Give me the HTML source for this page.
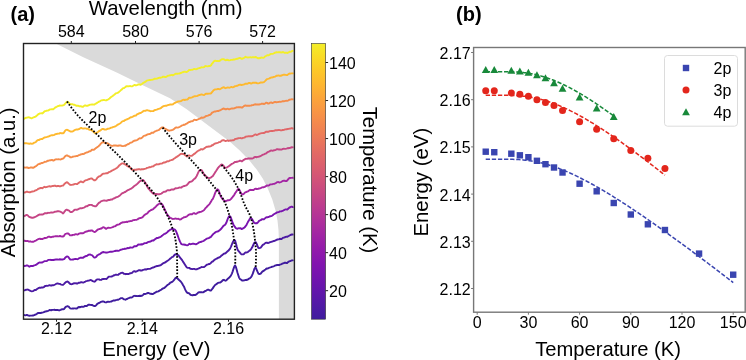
<!DOCTYPE html>
<html><head><meta charset="utf-8"><style>
html,body{margin:0;padding:0;background:#fff;width:746px;height:360px;overflow:hidden;}
svg{display:block;font-family:"Liberation Sans",sans-serif;will-change:transform;}
</style></head><body>
<svg width="746" height="360" viewBox="0 0 746 360"><path d="M55.80,43.50 L294.40,43.50 L294.40,319.20 L278.9,319.20 L278.90,240.00 L278.50,230.00 L277.50,220.40 L275.40,210.00 L272.30,199.60 L268.10,189.20 L262.90,178.75 L256.70,169.60 L249.40,160.50 L240.00,150.80 L230.00,141.70 L220.00,134.20 L210.00,126.70 L200.00,119.20 L186.70,109.20 L170.00,98.30 L141.70,84.70 L116.70,72.50 L83.30,57.20 L55.80,43.50 Z" fill="#dadada"/>
<path d="M23.9,118.72 L24.7,118.54 L25.5,118.00 L26.3,117.70 L27.1,117.65 L27.9,117.38 L28.7,117.30 L29.5,117.49 L30.3,117.78 L31.1,118.22 L31.9,118.25 L32.7,117.78 L33.5,117.35 L34.3,117.04 L35.1,116.82 L35.9,116.44 L36.7,115.68 L37.5,115.07 L38.3,114.19 L39.1,113.80 L39.9,113.40 L40.7,113.35 L41.5,113.28 L42.3,113.43 L43.1,112.86 L43.9,112.02 L44.7,111.19 L45.5,111.12 L46.3,110.76 L47.1,110.62 L47.9,110.49 L48.7,110.29 L49.5,109.72 L50.3,109.33 L51.1,109.35 L51.9,109.14 L52.7,109.25 L53.5,109.18 L54.3,108.38 L55.1,107.62 L55.9,107.09 L56.7,106.79 L57.5,106.30 L58.3,105.98 L59.1,105.83 L59.9,105.38 L60.7,105.58 L61.5,105.58 L62.3,105.44 L63.1,105.39 L63.9,105.01 L64.7,104.23 L65.5,103.31 L66.3,102.40 L67.1,101.70 L67.9,101.91 L68.7,102.65 L69.5,103.42 L70.3,104.11 L71.1,104.23 L71.9,104.21 L72.7,104.27 L73.5,104.71 L74.3,104.73 L75.1,105.02 L75.9,105.52 L76.7,105.80 L77.5,105.70 L78.3,105.74 L79.1,106.21 L79.9,106.37 L80.7,106.08 L81.5,106.55 L82.3,106.76 L83.1,106.70 L83.9,106.10 L84.7,105.46 L85.5,105.46 L86.3,105.76 L87.1,105.90 L87.9,105.52 L88.7,105.25 L89.5,104.95 L90.3,104.64 L91.1,104.63 L91.9,104.50 L92.7,104.47 L93.5,104.56 L94.3,104.59 L95.1,104.05 L95.9,103.53 L96.7,103.13 L97.5,102.50 L98.3,102.12 L99.1,101.55 L99.9,101.29 L100.7,100.64 L101.5,100.43 L102.3,100.23 L103.1,100.11 L103.9,100.02 L104.7,100.17 L105.5,100.34 L106.3,100.40 L107.1,99.92 L107.9,99.53 L108.7,99.07 L109.5,98.43 L110.3,97.70 L111.1,97.02 L111.9,96.44 L112.7,95.93 L113.5,95.23 L114.3,94.70 L115.1,94.05 L115.9,93.30 L116.7,93.07 L117.5,92.77 L118.3,92.57 L119.1,91.82 L119.9,91.11 L120.7,90.32 L121.5,89.77 L122.3,88.83 L123.1,88.16 L123.9,88.13 L124.7,87.50 L125.5,86.99 L126.3,86.24 L127.1,86.39 L127.9,86.20 L128.7,86.36 L129.5,86.10 L130.3,86.00 L131.1,86.40 L131.9,86.38 L132.7,86.05 L133.5,85.51 L134.3,85.07 L135.1,85.03 L135.9,85.48 L136.7,85.10 L137.5,84.80 L138.3,84.45 L139.1,84.40 L139.9,84.48 L140.7,84.85 L141.5,84.26 L142.3,83.77 L143.1,83.10 L143.9,82.51 L144.7,82.19 L145.5,81.66 L146.3,80.98 L147.1,80.43 L147.9,80.38 L148.7,80.14 L149.5,79.83 L150.3,80.03 L151.1,79.88 L151.9,79.78 L152.7,79.61 L153.5,79.43 L154.3,78.82 L155.1,78.74 L155.9,78.85 L156.7,78.66 L157.5,78.50 L158.3,78.03 L159.1,77.80 L159.9,77.65 L160.7,77.73 L161.5,77.40 L162.3,77.03 L163.1,76.63 L163.9,76.61 L164.7,76.99 L165.5,77.01 L166.3,76.91 L167.1,76.21 L167.9,75.76 L168.7,75.57 L169.5,75.47 L170.3,75.19 L171.1,75.10 L171.9,75.04 L172.7,75.21 L173.5,75.00 L174.3,74.54 L175.1,73.99 L175.9,73.59 L176.7,73.71 L177.5,73.73 L178.3,73.58 L179.1,73.53 L179.9,73.32 L180.7,73.00 L181.5,72.80 L182.3,72.30 L183.1,72.23 L183.9,71.71 L184.7,71.67 L185.5,71.79 L186.3,72.02 L187.1,71.79 L187.9,71.22 L188.7,70.42 L189.5,69.90 L190.3,69.98 L191.1,69.88 L191.9,69.82 L192.7,69.52 L193.5,69.17 L194.3,69.05 L195.1,69.17 L195.9,69.24 L196.7,69.07 L197.5,68.65 L198.3,68.41 L199.1,68.20 L199.9,68.00 L200.7,67.64 L201.5,67.28 L202.3,67.42 L203.1,67.38 L203.9,67.19 L204.7,66.47 L205.5,66.06 L206.3,66.12 L207.1,66.35 L207.9,66.39 L208.7,65.99 L209.5,65.95 L210.3,65.86 L211.1,65.28 L211.9,63.75 L212.7,63.02 L213.5,61.82 L214.3,61.03 L215.1,60.75 L215.9,60.94 L216.7,60.96 L217.5,60.94 L218.3,61.19 L219.1,61.04 L219.9,60.68 L220.7,60.05 L221.5,59.37 L222.3,59.22 L223.1,59.17 L223.9,59.26 L224.7,59.81 L225.5,60.22 L226.3,59.97 L227.1,59.79 L227.9,59.97 L228.7,60.35 L229.5,60.34 L230.3,60.14 L231.1,59.92 L231.9,59.88 L232.7,59.71 L233.5,59.51 L234.3,59.56 L235.1,59.31 L235.9,59.18 L236.7,58.73 L237.5,58.78 L238.3,58.40 L239.1,58.10 L239.9,57.90 L240.7,58.20 L241.5,58.84 L242.3,58.72 L243.1,58.25 L243.9,58.05 L244.7,57.56 L245.5,56.76 L246.3,57.12 L247.1,57.40 L247.9,57.54 L248.7,57.40 L249.5,57.38 L250.3,57.27 L251.1,57.43 L251.9,57.37 L252.7,57.15 L253.5,57.25 L254.3,57.18 L255.1,57.25 L255.9,57.00 L256.7,57.56 L257.5,57.99 L258.3,58.27 L259.1,58.21 L259.9,58.05 L260.7,57.76 L261.5,57.55 L262.3,57.67 L263.1,57.82 L263.9,57.66 L264.7,56.78 L265.5,56.13 L266.3,55.77 L267.1,55.31 L267.9,55.26 L268.7,55.19 L269.5,54.85 L270.3,54.23 L271.1,53.89 L271.9,53.91 L272.7,53.87 L273.5,53.50 L274.3,53.03 L275.1,52.64 L275.9,52.53 L276.7,52.18 L277.5,52.32 L278.3,52.15 L279.1,52.20 L279.9,52.14 L280.7,52.44 L281.5,52.51 L282.3,52.13 L283.1,52.04 L283.9,52.43 L284.7,52.78 L285.5,52.76 L286.3,52.73 L287.1,52.96 L287.9,52.77 L288.7,52.33 L289.5,51.81 L290.3,51.86 L291.1,51.58 L291.9,51.11 L292.7,50.85 L293.5,50.58" fill="none" stroke="#f3ee28" stroke-width="1.9" stroke-linejoin="round"/>
<path d="M23.9,143.33 L24.7,143.25 L25.5,143.23 L26.3,143.30 L27.1,143.38 L27.9,143.46 L28.7,143.69 L29.5,143.76 L30.3,143.51 L31.1,143.57 L31.9,143.83 L32.7,143.61 L33.5,143.10 L34.3,142.66 L35.1,142.45 L35.9,142.01 L36.7,140.94 L37.5,140.28 L38.3,139.90 L39.1,139.93 L39.9,139.38 L40.7,139.08 L41.5,139.00 L42.3,139.09 L43.1,138.40 L43.9,137.84 L44.7,137.40 L45.5,137.38 L46.3,137.09 L47.1,136.91 L47.9,136.68 L48.7,136.50 L49.5,136.06 L50.3,135.64 L51.1,135.42 L51.9,135.26 L52.7,135.26 L53.5,135.14 L54.3,134.82 L55.1,134.37 L55.9,133.98 L56.7,133.93 L57.5,133.72 L58.3,133.65 L59.1,133.67 L59.9,133.11 L60.7,133.07 L61.5,133.20 L62.3,133.26 L63.1,133.28 L63.9,132.66 L64.7,131.32 L65.5,130.27 L66.3,129.86 L67.1,129.77 L67.9,130.16 L68.7,130.54 L69.5,131.02 L70.3,131.54 L71.1,131.53 L71.9,131.62 L72.7,131.30 L73.5,130.89 L74.3,130.27 L75.1,129.93 L75.9,129.65 L76.7,129.50 L77.5,129.48 L78.3,129.31 L79.1,129.01 L79.9,128.65 L80.7,127.96 L81.5,128.00 L82.3,128.32 L83.1,128.61 L83.9,128.45 L84.7,128.32 L85.5,128.41 L86.3,128.58 L87.1,128.89 L87.9,128.81 L88.7,129.27 L89.5,129.87 L90.3,129.91 L91.1,130.03 L91.9,130.43 L92.7,131.08 L93.5,131.59 L94.3,132.57 L95.1,133.18 L95.9,133.10 L96.7,132.83 L97.5,132.23 L98.3,131.67 L99.1,130.97 L99.9,130.77 L100.7,130.15 L101.5,129.55 L102.3,128.94 L103.1,128.95 L103.9,129.24 L104.7,129.54 L105.5,129.62 L106.3,129.46 L107.1,129.01 L107.9,128.76 L108.7,128.58 L109.5,128.54 L110.3,128.06 L111.1,127.67 L111.9,127.57 L112.7,127.24 L113.5,126.83 L114.3,126.70 L115.1,126.49 L115.9,126.04 L116.7,125.46 L117.5,124.68 L118.3,124.51 L119.1,123.97 L119.9,123.51 L120.7,122.92 L121.5,122.14 L122.3,121.33 L123.1,121.15 L123.9,121.00 L124.7,120.30 L125.5,120.15 L126.3,119.44 L127.1,119.36 L127.9,118.90 L128.7,118.60 L129.5,118.04 L130.3,117.48 L131.1,117.29 L131.9,117.11 L132.7,116.75 L133.5,116.13 L134.3,115.79 L135.1,115.70 L135.9,115.51 L136.7,114.60 L137.5,114.15 L138.3,113.77 L139.1,113.51 L139.9,113.04 L140.7,112.95 L141.5,112.43 L142.3,112.01 L143.1,111.22 L143.9,110.75 L144.7,110.84 L145.5,110.79 L146.3,110.46 L147.1,110.22 L147.9,110.40 L148.7,110.59 L149.5,110.78 L150.3,111.20 L151.1,111.16 L151.9,111.08 L152.7,111.10 L153.5,111.05 L154.3,110.30 L155.1,109.99 L155.9,109.83 L156.7,109.63 L157.5,109.44 L158.3,108.85 L159.1,108.71 L159.9,108.48 L160.7,108.21 L161.5,107.45 L162.3,106.89 L163.1,106.45 L163.9,105.99 L164.7,105.81 L165.5,105.64 L166.3,105.76 L167.1,105.44 L167.9,105.12 L168.7,104.84 L169.5,104.75 L170.3,104.38 L171.1,104.43 L171.9,104.65 L172.7,104.44 L173.5,103.75 L174.3,103.21 L175.1,102.81 L175.9,102.46 L176.7,102.12 L177.5,101.68 L178.3,101.47 L179.1,101.39 L179.9,101.30 L180.7,101.13 L181.5,100.82 L182.3,100.15 L183.1,99.90 L183.9,99.69 L184.7,100.02 L185.5,99.75 L186.3,99.61 L187.1,99.56 L187.9,99.11 L188.7,98.13 L189.5,97.62 L190.3,97.85 L191.1,97.65 L191.9,97.46 L192.7,97.13 L193.5,96.57 L194.3,96.28 L195.1,96.29 L195.9,96.17 L196.7,96.17 L197.5,95.93 L198.3,95.34 L199.1,95.05 L199.9,94.97 L200.7,94.63 L201.5,94.44 L202.3,94.68 L203.1,94.93 L203.9,95.15 L204.7,94.54 L205.5,93.95 L206.3,93.68 L207.1,93.61 L207.9,93.76 L208.7,93.66 L209.5,93.62 L210.3,93.46 L211.1,93.30 L211.9,92.26 L212.7,91.43 L213.5,90.30 L214.3,89.83 L215.1,89.41 L215.9,89.35 L216.7,89.38 L217.5,89.00 L218.3,88.86 L219.1,89.13 L219.9,89.27 L220.7,88.76 L221.5,88.21 L222.3,87.94 L223.1,87.37 L223.9,87.19 L224.7,87.82 L225.5,88.23 L226.3,87.94 L227.1,87.69 L227.9,87.44 L228.7,87.59 L229.5,87.71 L230.3,87.40 L231.1,86.96 L231.9,87.05 L232.7,87.36 L233.5,87.11 L234.3,86.61 L235.1,86.20 L235.9,86.17 L236.7,85.73 L237.5,85.71 L238.3,85.19 L239.1,84.89 L239.9,84.76 L240.7,84.78 L241.5,85.02 L242.3,84.82 L243.1,84.58 L243.9,84.44 L244.7,84.05 L245.5,83.58 L246.3,83.75 L247.1,83.69 L247.9,83.58 L248.7,83.00 L249.5,82.94 L250.3,83.13 L251.1,83.57 L251.9,83.36 L252.7,82.71 L253.5,82.72 L254.3,82.70 L255.1,82.77 L255.9,82.62 L256.7,83.10 L257.5,83.29 L258.3,83.36 L259.1,83.19 L259.9,82.85 L260.7,82.49 L261.5,82.39 L262.3,82.44 L263.1,82.39 L263.9,82.11 L264.7,81.34 L265.5,80.58 L266.3,79.74 L267.1,79.09 L267.9,78.93 L268.7,78.68 L269.5,78.41 L270.3,77.91 L271.1,77.52 L271.9,77.47 L272.7,77.32 L273.5,76.95 L274.3,76.86 L275.1,76.57 L275.9,76.16 L276.7,75.65 L277.5,75.69 L278.3,75.52 L279.1,75.68 L279.9,75.65 L280.7,75.73 L281.5,75.54 L282.3,75.12 L283.1,74.93 L283.9,74.79 L284.7,74.72 L285.5,74.86 L286.3,75.04 L287.1,75.17 L287.9,74.57 L288.7,73.93 L289.5,73.53 L290.3,73.61 L291.1,73.41 L291.9,73.33 L292.7,73.34 L293.5,73.02" fill="none" stroke="#feb92e" stroke-width="1.9" stroke-linejoin="round"/>
<path d="M23.9,167.62 L24.7,167.50 L25.5,167.59 L26.3,167.50 L27.1,167.48 L27.9,167.73 L28.7,167.98 L29.5,167.88 L30.3,167.57 L31.1,167.51 L31.9,167.54 L32.7,167.72 L33.5,167.70 L34.3,167.15 L35.1,166.68 L35.9,166.20 L36.7,165.46 L37.5,164.91 L38.3,164.15 L39.1,164.00 L39.9,163.71 L40.7,163.50 L41.5,163.03 L42.3,162.98 L43.1,162.71 L43.9,162.35 L44.7,161.77 L45.5,161.84 L46.3,161.62 L47.1,161.10 L47.9,160.68 L48.7,160.71 L49.5,160.38 L50.3,160.19 L51.1,160.21 L51.9,159.95 L52.7,160.26 L53.5,160.59 L54.3,160.13 L55.1,159.56 L55.9,159.30 L56.7,159.42 L57.5,159.41 L58.3,159.30 L59.1,159.41 L59.9,159.39 L60.7,159.49 L61.5,159.08 L62.3,158.75 L63.1,158.61 L63.9,157.83 L64.7,156.76 L65.5,156.07 L66.3,155.53 L67.1,155.40 L67.9,155.90 L68.7,156.14 L69.5,156.52 L70.3,157.22 L71.1,157.30 L71.9,157.06 L72.7,156.72 L73.5,156.61 L74.3,156.36 L75.1,156.38 L75.9,156.10 L76.7,156.04 L77.5,155.99 L78.3,155.49 L79.1,155.14 L79.9,154.90 L80.7,154.43 L81.5,154.32 L82.3,154.01 L83.1,154.07 L83.9,153.83 L84.7,153.36 L85.5,152.97 L86.3,152.51 L87.1,152.43 L87.9,152.10 L88.7,151.64 L89.5,151.27 L90.3,151.22 L91.1,150.71 L91.9,149.70 L92.7,149.68 L93.5,149.80 L94.3,149.53 L95.1,148.81 L95.9,148.09 L96.7,147.55 L97.5,146.90 L98.3,146.51 L99.1,145.70 L99.9,144.86 L100.7,143.68 L101.5,143.08 L102.3,142.44 L103.1,142.14 L103.9,142.34 L104.7,142.72 L105.5,143.03 L106.3,143.32 L107.1,143.20 L107.9,143.49 L108.7,143.99 L109.5,144.69 L110.3,145.18 L111.1,145.56 L111.9,145.98 L112.7,145.91 L113.5,145.48 L114.3,145.42 L115.1,145.48 L115.9,145.43 L116.7,145.68 L117.5,145.76 L118.3,145.76 L119.1,145.42 L119.9,145.49 L120.7,145.46 L121.5,145.83 L122.3,146.08 L123.1,146.07 L123.9,145.91 L124.7,145.64 L125.5,145.89 L126.3,145.00 L127.1,144.62 L127.9,144.19 L128.7,144.06 L129.5,143.36 L130.3,142.67 L131.1,142.66 L131.9,142.40 L132.7,141.68 L133.5,141.05 L134.3,140.77 L135.1,140.42 L135.9,140.43 L136.7,140.22 L137.5,139.96 L138.3,139.04 L139.1,138.54 L139.9,138.27 L140.7,138.44 L141.5,138.04 L142.3,137.47 L143.1,136.55 L143.9,135.85 L144.7,135.60 L145.5,135.51 L146.3,135.20 L147.1,134.61 L147.9,134.26 L148.7,134.07 L149.5,133.96 L150.3,133.84 L151.1,133.17 L151.9,132.68 L152.7,132.69 L153.5,132.70 L154.3,131.74 L155.1,131.32 L155.9,131.05 L156.7,130.58 L157.5,130.47 L158.3,130.15 L159.1,129.79 L159.9,128.93 L160.7,128.29 L161.5,127.74 L162.3,127.44 L163.1,127.36 L163.9,127.82 L164.7,128.67 L165.5,128.94 L166.3,129.30 L167.1,129.73 L167.9,130.26 L168.7,130.57 L169.5,130.73 L170.3,130.37 L171.1,130.23 L171.9,130.06 L172.7,129.81 L173.5,129.39 L174.3,128.80 L175.1,127.99 L175.9,127.40 L176.7,127.47 L177.5,127.57 L178.3,127.44 L179.1,127.16 L179.9,126.70 L180.7,126.19 L181.5,125.81 L182.3,125.31 L183.1,125.13 L183.9,124.69 L184.7,124.74 L185.5,124.17 L186.3,123.76 L187.1,123.44 L187.9,122.81 L188.7,122.19 L189.5,121.98 L190.3,121.79 L191.1,121.30 L191.9,121.42 L192.7,121.19 L193.5,120.31 L194.3,119.78 L195.1,119.92 L195.9,120.01 L196.7,119.94 L197.5,119.68 L198.3,119.27 L199.1,118.88 L199.9,118.64 L200.7,118.06 L201.5,117.54 L202.3,117.73 L203.1,117.68 L203.9,117.48 L204.7,116.95 L205.5,116.37 L206.3,115.94 L207.1,115.89 L207.9,115.67 L208.7,115.14 L209.5,115.05 L210.3,114.64 L211.1,113.99 L211.9,112.72 L212.7,112.49 L213.5,112.01 L214.3,111.62 L215.1,111.38 L215.9,111.43 L216.7,111.17 L217.5,110.98 L218.3,111.12 L219.1,110.69 L219.9,110.32 L220.7,110.05 L221.5,109.48 L222.3,109.07 L223.1,108.73 L223.9,108.52 L224.7,108.86 L225.5,109.40 L226.3,109.28 L227.1,108.86 L227.9,108.76 L228.7,109.22 L229.5,109.27 L230.3,108.93 L231.1,108.68 L231.9,108.55 L232.7,108.49 L233.5,108.43 L234.3,108.32 L235.1,107.94 L235.9,107.77 L236.7,107.30 L237.5,107.36 L238.3,107.15 L239.1,107.23 L239.9,107.23 L240.7,107.17 L241.5,107.55 L242.3,107.50 L243.1,106.85 L243.9,106.15 L244.7,105.65 L245.5,105.39 L246.3,105.82 L247.1,105.73 L247.9,105.76 L248.7,105.61 L249.5,105.71 L250.3,105.61 L251.1,105.48 L251.9,105.28 L252.7,105.16 L253.5,105.06 L254.3,104.48 L255.1,104.45 L255.9,104.31 L256.7,104.52 L257.5,104.53 L258.3,104.56 L259.1,104.45 L259.9,104.30 L260.7,104.07 L261.5,103.73 L262.3,103.61 L263.1,103.79 L263.9,103.98 L264.7,103.77 L265.5,103.22 L266.3,102.64 L267.1,102.81 L267.9,103.51 L268.7,103.55 L269.5,103.16 L270.3,102.56 L271.1,102.35 L271.9,102.82 L272.7,103.05 L273.5,102.55 L274.3,102.10 L275.1,101.84 L275.9,102.19 L276.7,102.21 L277.5,102.15 L278.3,101.93 L279.1,101.92 L279.9,101.68 L280.7,101.86 L281.5,101.65 L282.3,101.31 L283.1,101.28 L283.9,101.25 L284.7,101.11 L285.5,100.90 L286.3,100.81 L287.1,100.85 L287.9,100.54 L288.7,100.17 L289.5,99.63 L290.3,99.59 L291.1,99.39 L291.9,99.23 L292.7,99.35 L293.5,99.29" fill="none" stroke="#f58c4a" stroke-width="1.9" stroke-linejoin="round"/>
<path d="M23.9,192.33 L24.7,192.48 L25.5,192.31 L26.3,191.71 L27.1,191.64 L27.9,191.95 L28.7,192.09 L29.5,192.28 L30.3,192.22 L31.1,191.85 L31.9,191.53 L32.7,191.43 L33.5,191.42 L34.3,191.03 L35.1,190.52 L35.9,190.29 L36.7,189.93 L37.5,189.50 L38.3,188.76 L39.1,188.61 L39.9,188.21 L40.7,188.00 L41.5,187.97 L42.3,188.23 L43.1,187.67 L43.9,187.09 L44.7,186.81 L45.5,187.25 L46.3,187.08 L47.1,186.80 L47.9,186.55 L48.7,186.33 L49.5,186.27 L50.3,186.49 L51.1,186.54 L51.9,186.08 L52.7,185.95 L53.5,186.02 L54.3,185.61 L55.1,185.63 L55.9,186.13 L56.7,186.27 L57.5,185.96 L58.3,185.90 L59.1,186.25 L59.9,186.23 L60.7,186.24 L61.5,185.82 L62.3,185.60 L63.1,185.53 L63.9,184.67 L64.7,183.69 L65.5,183.06 L66.3,182.48 L67.1,182.26 L67.9,182.81 L68.7,183.68 L69.5,184.43 L70.3,184.90 L71.1,184.93 L71.9,184.84 L72.7,184.64 L73.5,184.59 L74.3,184.05 L75.1,183.86 L75.9,183.88 L76.7,184.13 L77.5,183.97 L78.3,183.12 L79.1,182.54 L79.9,182.14 L80.7,181.46 L81.5,181.63 L82.3,182.13 L83.1,182.38 L83.9,181.60 L84.7,180.76 L85.5,180.39 L86.3,180.13 L87.1,180.05 L87.9,179.56 L88.7,179.24 L89.5,179.01 L90.3,178.69 L91.1,178.52 L91.9,178.57 L92.7,179.23 L93.5,179.83 L94.3,180.37 L95.1,180.22 L95.9,179.66 L96.7,178.81 L97.5,177.59 L98.3,176.93 L99.1,176.34 L99.9,176.20 L100.7,175.65 L101.5,175.03 L102.3,174.20 L103.1,173.75 L103.9,173.58 L104.7,173.65 L105.5,173.40 L106.3,173.26 L107.1,173.29 L107.9,172.97 L108.7,172.24 L109.5,171.96 L110.3,171.65 L111.1,171.18 L111.9,170.66 L112.7,170.26 L113.5,169.84 L114.3,169.48 L115.1,169.03 L115.9,168.50 L116.7,168.15 L117.5,167.31 L118.3,166.65 L119.1,165.57 L119.9,164.88 L120.7,164.26 L121.5,163.67 L122.3,163.33 L123.1,163.43 L123.9,163.75 L124.7,163.95 L125.5,164.71 L126.3,164.99 L127.1,165.98 L127.9,166.30 L128.7,166.68 L129.5,167.03 L130.3,167.67 L131.1,168.69 L131.9,169.57 L132.7,170.03 L133.5,169.87 L134.3,169.72 L135.1,169.65 L135.9,169.78 L136.7,169.50 L137.5,169.43 L138.3,169.20 L139.1,169.29 L139.9,169.31 L140.7,169.54 L141.5,169.26 L142.3,169.30 L143.1,169.21 L143.9,169.02 L144.7,168.81 L145.5,168.59 L146.3,168.33 L147.1,167.83 L147.9,167.68 L148.7,167.46 L149.5,167.06 L150.3,167.21 L151.1,166.94 L151.9,166.54 L152.7,166.39 L153.5,166.22 L154.3,165.43 L155.1,165.00 L155.9,164.55 L156.7,164.24 L157.5,164.43 L158.3,164.32 L159.1,164.26 L159.9,163.78 L160.7,163.63 L161.5,163.59 L162.3,163.37 L163.1,162.76 L163.9,162.36 L164.7,162.47 L165.5,162.26 L166.3,161.89 L167.1,161.29 L167.9,161.41 L168.7,161.28 L169.5,160.70 L170.3,160.34 L171.1,160.18 L171.9,159.92 L172.7,159.75 L173.5,159.07 L174.3,158.53 L175.1,158.01 L175.9,157.26 L176.7,156.90 L177.5,156.43 L178.3,155.79 L179.1,155.18 L179.9,154.50 L180.7,154.00 L181.5,153.82 L182.3,153.81 L183.1,154.07 L183.9,153.95 L184.7,154.83 L185.5,155.43 L186.3,156.18 L187.1,156.57 L187.9,156.03 L188.7,155.50 L189.5,155.56 L190.3,155.89 L191.1,155.90 L191.9,155.73 L192.7,155.12 L193.5,154.43 L194.3,153.93 L195.1,153.43 L195.9,152.65 L196.7,151.92 L197.5,151.20 L198.3,150.71 L199.1,150.45 L199.9,149.95 L200.7,149.30 L201.5,149.17 L202.3,149.49 L203.1,149.28 L203.9,148.80 L204.7,148.08 L205.5,147.56 L206.3,146.93 L207.1,146.72 L207.9,146.81 L208.7,146.46 L209.5,146.48 L210.3,146.31 L211.1,146.02 L211.9,145.26 L212.7,145.22 L213.5,144.49 L214.3,143.89 L215.1,143.47 L215.9,143.28 L216.7,143.07 L217.5,142.85 L218.3,142.53 L219.1,142.10 L219.9,142.08 L220.7,141.70 L221.5,140.90 L222.3,140.42 L223.1,140.18 L223.9,140.29 L224.7,140.68 L225.5,140.99 L226.3,140.86 L227.1,140.49 L227.9,140.56 L228.7,140.96 L229.5,140.66 L230.3,140.51 L231.1,140.52 L231.9,140.35 L232.7,140.27 L233.5,140.20 L234.3,139.81 L235.1,139.00 L235.9,138.91 L236.7,138.70 L237.5,138.65 L238.3,138.20 L239.1,138.16 L239.9,138.11 L240.7,138.01 L241.5,138.36 L242.3,138.28 L243.1,137.82 L243.9,137.66 L244.7,137.47 L245.5,136.76 L246.3,136.64 L247.1,136.46 L247.9,136.39 L248.7,136.24 L249.5,136.30 L250.3,136.10 L251.1,136.28 L251.9,136.26 L252.7,135.92 L253.5,135.63 L254.3,134.88 L255.1,134.52 L255.9,134.50 L256.7,135.09 L257.5,134.75 L258.3,134.29 L259.1,133.87 L259.9,133.57 L260.7,133.34 L261.5,133.14 L262.3,133.13 L263.1,133.04 L263.9,133.05 L264.7,132.68 L265.5,132.08 L266.3,131.60 L267.1,131.62 L267.9,131.96 L268.7,131.58 L269.5,131.19 L270.3,131.09 L271.1,130.95 L271.9,130.92 L272.7,131.02 L273.5,130.89 L274.3,130.73 L275.1,130.30 L275.9,130.19 L276.7,130.08 L277.5,130.19 L278.3,129.99 L279.1,130.10 L279.9,130.00 L280.7,130.36 L281.5,130.40 L282.3,130.02 L283.1,129.97 L283.9,129.83 L284.7,129.56 L285.5,129.43 L286.3,129.30 L287.1,129.22 L287.9,128.95 L288.7,128.88 L289.5,128.60 L290.3,128.60 L291.1,128.30 L291.9,128.20 L292.7,128.51 L293.5,128.35" fill="none" stroke="#e06668" stroke-width="1.9" stroke-linejoin="round"/>
<path d="M23.9,216.29 L24.7,215.93 L25.5,215.40 L26.3,214.97 L27.1,215.06 L27.9,215.56 L28.7,216.41 L29.5,217.09 L30.3,217.24 L31.1,217.48 L31.9,217.84 L32.7,217.78 L33.5,217.49 L34.3,217.30 L35.1,216.98 L35.9,216.55 L36.7,216.08 L37.5,215.73 L38.3,215.05 L39.1,214.75 L39.9,214.44 L40.7,214.64 L41.5,214.50 L42.3,214.53 L43.1,214.32 L43.9,213.90 L44.7,213.20 L45.5,213.17 L46.3,213.29 L47.1,213.30 L47.9,212.82 L48.7,212.84 L49.5,212.87 L50.3,212.64 L51.1,212.51 L51.9,212.52 L52.7,212.66 L53.5,212.45 L54.3,211.95 L55.1,211.68 L55.9,211.62 L56.7,211.56 L57.5,211.24 L58.3,211.14 L59.1,211.42 L59.9,211.48 L60.7,211.92 L61.5,212.18 L62.3,212.84 L63.1,213.44 L63.9,212.62 L64.7,211.33 L65.5,210.36 L66.3,209.76 L67.1,209.82 L67.9,210.23 L68.7,210.39 L69.5,211.06 L70.3,212.01 L71.1,212.13 L71.9,211.99 L72.7,211.41 L73.5,210.80 L74.3,210.06 L75.1,209.63 L75.9,209.58 L76.7,209.75 L77.5,209.61 L78.3,209.21 L79.1,208.67 L79.9,208.32 L80.7,208.17 L81.5,208.40 L82.3,208.11 L83.1,207.88 L83.9,207.69 L84.7,207.26 L85.5,206.58 L86.3,206.22 L87.1,206.30 L87.9,205.69 L88.7,205.15 L89.5,204.95 L90.3,204.85 L91.1,204.92 L91.9,205.05 L92.7,205.59 L93.5,205.80 L94.3,206.06 L95.1,206.34 L95.9,206.22 L96.7,205.57 L97.5,204.46 L98.3,203.53 L99.1,202.73 L99.9,202.44 L100.7,201.49 L101.5,201.08 L102.3,200.82 L103.1,200.58 L103.9,200.47 L104.7,200.46 L105.5,200.59 L106.3,200.79 L107.1,200.51 L107.9,200.24 L108.7,199.97 L109.5,200.02 L110.3,199.73 L111.1,199.53 L111.9,199.57 L112.7,199.09 L113.5,198.52 L114.3,198.37 L115.1,197.90 L115.9,197.34 L116.7,197.27 L117.5,196.87 L118.3,196.60 L119.1,195.97 L119.9,195.40 L120.7,194.63 L121.5,193.84 L122.3,193.19 L123.1,193.01 L123.9,192.62 L124.7,191.95 L125.5,191.98 L126.3,191.01 L127.1,190.65 L127.9,190.08 L128.7,189.77 L129.5,189.45 L130.3,189.00 L131.1,188.57 L131.9,188.08 L132.7,187.53 L133.5,186.73 L134.3,186.10 L135.1,185.48 L135.9,184.99 L136.7,184.27 L137.5,183.72 L138.3,182.79 L139.1,181.98 L139.9,181.12 L140.7,180.95 L141.5,180.42 L142.3,180.14 L143.1,180.05 L143.9,180.73 L144.7,181.91 L145.5,183.11 L146.3,184.68 L147.1,186.27 L147.9,187.70 L148.7,188.84 L149.5,189.72 L150.3,190.78 L151.1,191.59 L151.9,192.43 L152.7,193.14 L153.5,193.77 L154.3,193.89 L155.1,194.05 L155.9,193.97 L156.7,193.96 L157.5,194.26 L158.3,194.23 L159.1,194.30 L159.9,194.05 L160.7,193.90 L161.5,193.46 L162.3,192.87 L163.1,192.21 L163.9,191.74 L164.7,191.82 L165.5,191.62 L166.3,191.10 L167.1,190.36 L167.9,190.13 L168.7,190.22 L169.5,190.42 L170.3,190.07 L171.1,189.71 L171.9,189.45 L172.7,189.56 L173.5,189.56 L174.3,189.14 L175.1,188.47 L175.9,188.22 L176.7,188.33 L177.5,188.13 L178.3,187.97 L179.1,187.71 L179.9,187.47 L180.7,187.59 L181.5,187.49 L182.3,186.68 L183.1,186.44 L183.9,186.06 L184.7,185.98 L185.5,185.66 L186.3,185.39 L187.1,184.75 L187.9,183.92 L188.7,182.85 L189.5,182.04 L190.3,181.84 L191.1,181.52 L191.9,181.31 L192.7,180.62 L193.5,179.59 L194.3,178.87 L195.1,178.38 L195.9,177.36 L196.7,175.96 L197.5,174.24 L198.3,172.39 L199.1,170.85 L199.9,170.06 L200.7,169.90 L201.5,170.18 L202.3,171.17 L203.1,172.61 L203.9,174.24 L204.7,175.02 L205.5,175.75 L206.3,176.57 L207.1,177.36 L207.9,177.90 L208.7,177.99 L209.5,178.14 L210.3,177.75 L211.1,177.47 L211.9,176.68 L212.7,176.27 L213.5,174.96 L214.3,173.65 L215.1,172.41 L215.9,171.28 L216.7,170.00 L217.5,168.67 L218.3,167.58 L219.1,166.67 L219.9,165.96 L220.7,165.09 L221.5,164.54 L222.3,164.74 L223.1,165.28 L223.9,166.38 L224.7,167.50 L225.5,167.83 L226.3,167.64 L227.1,167.27 L227.9,166.77 L228.7,166.38 L229.5,165.66 L230.3,164.99 L231.1,164.40 L231.9,163.89 L232.7,163.50 L233.5,163.07 L234.3,162.45 L235.1,161.84 L235.9,161.98 L236.7,161.75 L237.5,161.69 L238.3,161.39 L239.1,161.17 L239.9,160.68 L240.7,160.66 L241.5,161.33 L242.3,161.19 L243.1,160.37 L243.9,159.77 L244.7,159.39 L245.5,158.80 L246.3,158.85 L247.1,158.77 L247.9,158.58 L248.7,158.30 L249.5,158.51 L250.3,158.44 L251.1,158.53 L251.9,158.54 L252.7,158.28 L253.5,157.96 L254.3,157.23 L255.1,157.03 L255.9,157.01 L256.7,157.24 L257.5,156.86 L258.3,156.78 L259.1,156.58 L259.9,156.28 L260.7,156.08 L261.5,155.55 L262.3,154.98 L263.1,154.59 L263.9,154.39 L264.7,153.98 L265.5,153.63 L266.3,153.27 L267.1,152.51 L267.9,151.98 L268.7,151.71 L269.5,151.39 L270.3,150.78 L271.1,150.50 L271.9,150.67 L272.7,150.79 L273.5,150.44 L274.3,150.23 L275.1,150.09 L275.9,149.84 L276.7,149.29 L277.5,149.24 L278.3,149.29 L279.1,149.58 L279.9,149.31 L280.7,149.55 L281.5,149.65 L282.3,149.21 L283.1,148.82 L283.9,148.68 L284.7,148.83 L285.5,148.85 L286.3,148.64 L287.1,148.36 L287.9,148.04 L288.7,148.20 L289.5,147.99 L290.3,147.82 L291.1,147.47 L291.9,147.22 L292.7,147.32 L293.5,147.18" fill="none" stroke="#c54585" stroke-width="1.9" stroke-linejoin="round"/>
<path d="M23.9,240.70 L24.7,240.73 L25.5,241.06 L26.3,241.12 L27.1,240.85 L27.9,240.95 L28.7,241.49 L29.5,241.56 L30.3,241.31 L31.1,241.63 L31.9,241.82 L32.7,241.80 L33.5,241.81 L34.3,241.29 L35.1,240.85 L35.9,240.60 L36.7,239.90 L37.5,239.54 L38.3,239.09 L39.1,238.83 L39.9,238.69 L40.7,239.11 L41.5,239.04 L42.3,239.05 L43.1,238.72 L43.9,238.42 L44.7,237.93 L45.5,237.98 L46.3,237.88 L47.1,237.52 L47.9,236.88 L48.7,236.69 L49.5,236.74 L50.3,237.08 L51.1,237.27 L51.9,236.86 L52.7,236.76 L53.5,236.69 L54.3,236.36 L55.1,236.32 L55.9,236.24 L56.7,236.13 L57.5,236.19 L58.3,236.38 L59.1,236.37 L59.9,235.95 L60.7,236.26 L61.5,236.45 L62.3,236.44 L63.1,236.60 L63.9,235.97 L64.7,234.67 L65.5,233.83 L66.3,233.67 L67.1,233.49 L67.9,233.38 L68.7,233.83 L69.5,234.73 L70.3,235.40 L71.1,235.42 L71.9,235.30 L72.7,234.91 L73.5,234.90 L74.3,234.77 L75.1,234.43 L75.9,234.16 L76.7,234.43 L77.5,234.53 L78.3,234.12 L79.1,233.57 L79.9,233.30 L80.7,233.08 L81.5,233.20 L82.3,233.12 L83.1,233.21 L83.9,232.80 L84.7,232.13 L85.5,231.78 L86.3,231.49 L87.1,231.44 L87.9,231.06 L88.7,230.76 L89.5,230.81 L90.3,230.75 L91.1,230.48 L91.9,230.37 L92.7,230.96 L93.5,231.56 L94.3,232.04 L95.1,231.89 L95.9,231.29 L96.7,230.58 L97.5,229.76 L98.3,229.45 L99.1,229.18 L99.9,229.00 L100.7,228.47 L101.5,228.46 L102.3,227.75 L103.1,227.19 L103.9,227.41 L104.7,227.83 L105.5,228.54 L106.3,228.90 L107.1,228.12 L107.9,227.77 L108.7,227.76 L109.5,227.85 L110.3,227.86 L111.1,227.69 L111.9,227.46 L112.7,227.21 L113.5,226.63 L114.3,226.38 L115.1,226.26 L115.9,225.65 L116.7,225.12 L117.5,224.64 L118.3,224.62 L119.1,224.35 L119.9,223.95 L120.7,223.16 L121.5,222.82 L122.3,222.48 L123.1,222.27 L123.9,222.35 L124.7,222.07 L125.5,222.16 L126.3,221.72 L127.1,222.02 L127.9,221.64 L128.7,221.39 L129.5,221.25 L130.3,221.07 L131.1,221.08 L131.9,220.81 L132.7,220.38 L133.5,220.11 L134.3,220.05 L135.1,219.83 L135.9,219.88 L136.7,219.72 L137.5,219.46 L138.3,218.73 L139.1,218.38 L139.9,218.02 L140.7,218.06 L141.5,217.74 L142.3,217.44 L143.1,216.52 L143.9,215.57 L144.7,214.89 L145.5,214.28 L146.3,213.97 L147.1,213.50 L147.9,212.64 L148.7,211.60 L149.5,210.91 L150.3,210.55 L151.1,210.00 L151.9,209.74 L152.7,209.31 L153.5,208.84 L154.3,207.92 L155.1,207.36 L155.9,206.63 L156.7,205.60 L157.5,204.94 L158.3,204.27 L159.1,203.84 L159.9,203.24 L160.7,203.28 L161.5,203.61 L162.3,204.53 L163.1,206.01 L163.9,207.62 L164.7,209.32 L165.5,211.07 L166.3,212.92 L167.1,214.16 L167.9,215.41 L168.7,216.37 L169.5,217.38 L170.3,217.96 L171.1,218.20 L171.9,218.58 L172.7,219.00 L173.5,218.86 L174.3,218.75 L175.1,218.62 L175.9,218.54 L176.7,218.88 L177.5,218.86 L178.3,218.69 L179.1,219.19 L179.9,219.59 L180.7,219.39 L181.5,218.92 L182.3,218.14 L183.1,217.88 L183.9,217.23 L184.7,217.19 L185.5,216.99 L186.3,216.71 L187.1,216.18 L187.9,215.43 L188.7,214.78 L189.5,214.38 L190.3,214.28 L191.1,214.25 L191.9,214.39 L192.7,213.82 L193.5,213.10 L194.3,213.10 L195.1,213.72 L195.9,213.92 L196.7,213.45 L197.5,212.82 L198.3,212.49 L199.1,212.22 L199.9,211.98 L200.7,211.84 L201.5,211.56 L202.3,211.24 L203.1,210.73 L203.9,210.27 L204.7,209.22 L205.5,208.19 L206.3,207.38 L207.1,206.50 L207.9,205.69 L208.7,204.88 L209.5,204.12 L210.3,202.81 L211.1,201.55 L211.9,199.94 L212.7,199.01 L213.5,197.32 L214.3,195.39 L215.1,193.18 L215.9,191.27 L216.7,189.93 L217.5,189.23 L218.3,189.71 L219.1,191.57 L219.9,194.24 L220.7,196.17 L221.5,197.46 L222.3,198.78 L223.1,199.64 L223.9,200.32 L224.7,200.95 L225.5,201.25 L226.3,201.03 L227.1,200.54 L227.9,200.16 L228.7,200.24 L229.5,200.06 L230.3,199.69 L231.1,198.88 L231.9,197.81 L232.7,196.94 L233.5,195.93 L234.3,194.70 L235.1,193.21 L235.9,192.18 L236.7,190.95 L237.5,189.83 L238.3,188.85 L239.1,189.50 L239.9,190.85 L240.7,192.38 L241.5,193.93 L242.3,194.44 L243.1,194.27 L243.9,193.70 L244.7,192.91 L245.5,192.12 L246.3,192.00 L247.1,191.71 L247.9,191.42 L248.7,190.76 L249.5,190.19 L250.3,189.80 L251.1,190.03 L251.9,189.99 L252.7,190.02 L253.5,190.12 L254.3,189.40 L255.1,188.95 L255.9,188.67 L256.7,189.05 L257.5,188.95 L258.3,188.74 L259.1,188.49 L259.9,188.33 L260.7,188.05 L261.5,187.65 L262.3,187.38 L263.1,187.19 L263.9,187.19 L264.7,186.88 L265.5,186.42 L266.3,185.86 L267.1,185.44 L267.9,185.62 L268.7,185.52 L269.5,184.93 L270.3,184.42 L271.1,184.38 L271.9,184.37 L272.7,184.11 L273.5,183.84 L274.3,183.84 L275.1,183.46 L275.9,183.04 L276.7,182.40 L277.5,182.11 L278.3,182.01 L279.1,182.44 L279.9,182.33 L280.7,182.16 L281.5,181.74 L282.3,181.24 L283.1,180.92 L283.9,180.73 L284.7,180.79 L285.5,180.96 L286.3,181.09 L287.1,180.69 L287.9,179.61 L288.7,178.71 L289.5,177.90 L290.3,177.93 L291.1,177.91 L291.9,177.85 L292.7,177.86 L293.5,177.41" fill="none" stroke="#a325a3" stroke-width="1.9" stroke-linejoin="round"/>
<path d="M23.9,265.76 L24.7,265.98 L25.5,265.89 L26.3,265.48 L27.1,265.35 L27.9,265.64 L28.7,266.34 L29.5,266.69 L30.3,266.23 L31.1,265.91 L31.9,266.01 L32.7,265.98 L33.5,265.73 L34.3,265.41 L35.1,265.19 L35.9,264.91 L36.7,264.33 L37.5,263.82 L38.3,263.02 L39.1,262.71 L39.9,262.47 L40.7,262.62 L41.5,262.43 L42.3,262.44 L43.1,261.95 L43.9,261.51 L44.7,261.08 L45.5,261.10 L46.3,261.12 L47.1,260.90 L47.9,260.12 L48.7,259.91 L49.5,259.88 L50.3,259.82 L51.1,260.00 L51.9,260.03 L52.7,260.06 L53.5,259.98 L54.3,259.76 L55.1,259.69 L55.9,259.52 L56.7,259.54 L57.5,259.56 L58.3,259.58 L59.1,259.54 L59.9,259.24 L60.7,259.54 L61.5,259.56 L62.3,259.44 L63.1,259.44 L63.9,259.19 L64.7,258.46 L65.5,257.44 L66.3,256.83 L67.1,256.46 L67.9,256.59 L68.7,257.43 L69.5,258.66 L70.3,259.60 L71.1,259.65 L71.9,259.62 L72.7,259.52 L73.5,259.48 L74.3,259.10 L75.1,258.98 L75.9,258.93 L76.7,259.11 L77.5,259.20 L78.3,258.80 L79.1,258.25 L79.9,257.94 L80.7,257.58 L81.5,257.72 L82.3,257.77 L83.1,257.71 L83.9,257.13 L84.7,256.56 L85.5,256.25 L86.3,256.02 L87.1,255.87 L87.9,255.13 L88.7,254.69 L89.5,254.57 L90.3,254.52 L91.1,254.85 L91.9,255.14 L92.7,255.84 L93.5,256.82 L94.3,257.58 L95.1,257.46 L95.9,257.05 L96.7,256.22 L97.5,255.08 L98.3,254.78 L99.1,254.32 L99.9,254.03 L100.7,253.40 L101.5,252.92 L102.3,252.27 L103.1,252.05 L103.9,252.21 L104.7,252.39 L105.5,252.48 L106.3,252.70 L107.1,252.51 L107.9,252.40 L108.7,252.15 L109.5,251.87 L110.3,251.74 L111.1,251.82 L111.9,251.80 L112.7,251.66 L113.5,251.41 L114.3,251.20 L115.1,250.96 L115.9,250.77 L116.7,250.79 L117.5,250.62 L118.3,250.86 L119.1,250.60 L119.9,250.24 L120.7,249.79 L121.5,249.58 L122.3,249.29 L123.1,249.13 L123.9,249.11 L124.7,248.73 L125.5,248.89 L126.3,248.51 L127.1,248.38 L127.9,247.92 L128.7,248.20 L129.5,247.87 L130.3,247.38 L131.1,247.53 L131.9,247.63 L132.7,247.54 L133.5,246.87 L134.3,246.27 L135.1,246.10 L135.9,246.34 L136.7,245.99 L137.5,245.30 L138.3,244.56 L139.1,244.64 L139.9,244.56 L140.7,244.56 L141.5,244.23 L142.3,244.48 L143.1,244.12 L143.9,243.43 L144.7,243.20 L145.5,243.15 L146.3,243.16 L147.1,242.67 L147.9,242.14 L148.7,241.93 L149.5,241.72 L150.3,241.59 L151.1,241.12 L151.9,240.61 L152.7,240.40 L153.5,240.56 L154.3,239.76 L155.1,239.15 L155.9,238.65 L156.7,238.05 L157.5,237.96 L158.3,237.74 L159.1,237.50 L159.9,237.11 L160.7,236.85 L161.5,236.11 L162.3,235.55 L163.1,234.86 L163.9,234.19 L164.7,233.96 L165.5,233.39 L166.3,233.06 L167.1,232.37 L167.9,231.52 L168.7,230.76 L169.5,230.32 L170.3,229.72 L171.1,229.34 L171.9,228.93 L172.7,228.87 L173.5,229.08 L174.3,229.30 L175.1,229.78 L175.9,230.98 L176.7,232.81 L177.5,234.93 L178.3,237.23 L179.1,239.46 L179.9,241.38 L180.7,242.92 L181.5,244.12 L182.3,244.42 L183.1,244.67 L183.9,244.52 L184.7,244.72 L185.5,244.80 L186.3,245.15 L187.1,245.33 L187.9,245.16 L188.7,244.31 L189.5,243.81 L190.3,244.19 L191.1,244.12 L191.9,243.87 L192.7,243.64 L193.5,243.71 L194.3,243.87 L195.1,244.08 L195.9,244.22 L196.7,244.05 L197.5,243.55 L198.3,242.97 L199.1,242.38 L199.9,242.18 L200.7,242.05 L201.5,241.60 L202.3,241.36 L203.1,241.13 L203.9,240.76 L204.7,240.01 L205.5,239.59 L206.3,238.98 L207.1,238.39 L207.9,238.35 L208.7,238.12 L209.5,237.66 L210.3,237.10 L211.1,236.81 L211.9,235.55 L212.7,234.70 L213.5,233.78 L214.3,233.27 L215.1,232.50 L215.9,231.90 L216.7,231.62 L217.5,231.52 L218.3,231.28 L219.1,230.61 L219.9,230.04 L220.7,229.28 L221.5,228.33 L222.3,227.39 L223.1,226.22 L223.9,225.48 L224.7,225.06 L225.5,224.28 L226.3,222.83 L227.1,220.70 L227.9,218.48 L228.7,216.90 L229.5,215.94 L230.3,216.50 L231.1,218.23 L231.9,220.58 L232.7,223.00 L233.5,224.76 L234.3,226.19 L235.1,227.20 L235.9,228.22 L236.7,228.60 L237.5,228.71 L238.3,228.28 L239.1,228.34 L239.9,228.15 L240.7,228.27 L241.5,229.02 L242.3,228.89 L243.1,228.32 L243.9,227.97 L244.7,227.36 L245.5,226.22 L246.3,225.27 L247.1,223.58 L247.9,222.08 L248.7,220.69 L249.5,219.38 L250.3,218.20 L251.1,218.14 L251.9,218.87 L252.7,220.24 L253.5,221.93 L254.3,222.71 L255.1,223.19 L255.9,223.19 L256.7,223.38 L257.5,222.80 L258.3,221.90 L259.1,220.90 L259.9,220.47 L260.7,220.18 L261.5,219.45 L262.3,219.17 L263.1,219.28 L263.9,219.31 L264.7,218.63 L265.5,217.85 L266.3,217.43 L267.1,217.13 L267.9,217.18 L268.7,216.98 L269.5,216.52 L270.3,216.27 L271.1,216.15 L271.9,215.77 L272.7,215.24 L273.5,214.53 L274.3,214.02 L275.1,213.55 L275.9,213.17 L276.7,212.55 L277.5,212.43 L278.3,212.13 L279.1,211.93 L279.9,211.41 L280.7,211.41 L281.5,211.38 L282.3,210.97 L283.1,210.61 L283.9,210.20 L284.7,209.73 L285.5,209.34 L286.3,209.35 L287.1,209.65 L287.9,209.06 L288.7,208.17 L289.5,207.49 L290.3,207.26 L291.1,206.74 L291.9,206.70 L292.7,207.07 L293.5,206.79" fill="none" stroke="#7914af" stroke-width="1.9" stroke-linejoin="round"/>
<path d="M23.9,290.43 L24.7,290.33 L25.5,289.96 L26.3,289.69 L27.1,289.57 L27.9,289.62 L28.7,289.97 L29.5,290.42 L30.3,290.75 L31.1,291.11 L31.9,291.36 L32.7,291.17 L33.5,290.80 L34.3,290.25 L35.1,289.96 L35.9,289.96 L36.7,289.34 L37.5,288.78 L38.3,288.20 L39.1,287.88 L39.9,287.57 L40.7,287.77 L41.5,287.47 L42.3,287.45 L43.1,287.44 L43.9,287.09 L44.7,286.23 L45.5,286.01 L46.3,285.81 L47.1,285.86 L47.9,285.70 L48.7,285.47 L49.5,285.16 L50.3,285.35 L51.1,285.68 L51.9,285.26 L52.7,285.14 L53.5,285.24 L54.3,284.90 L55.1,284.50 L55.9,284.01 L56.7,283.60 L57.5,283.41 L58.3,283.61 L59.1,283.91 L59.9,283.91 L60.7,284.35 L61.5,284.61 L62.3,284.84 L63.1,284.79 L63.9,284.09 L64.7,283.22 L65.5,282.40 L66.3,281.82 L67.1,281.53 L67.9,281.70 L68.7,282.30 L69.5,283.31 L70.3,284.03 L71.1,284.11 L71.9,284.24 L72.7,283.83 L73.5,283.46 L74.3,283.26 L75.1,283.34 L75.9,283.26 L76.7,283.48 L77.5,283.55 L78.3,282.97 L79.1,282.62 L79.9,282.72 L80.7,282.30 L81.5,282.24 L82.3,282.40 L83.1,282.65 L83.9,282.30 L84.7,281.84 L85.5,281.56 L86.3,281.06 L87.1,280.90 L87.9,280.72 L88.7,280.63 L89.5,280.33 L90.3,280.02 L91.1,280.19 L91.9,280.55 L92.7,281.10 L93.5,281.36 L94.3,281.74 L95.1,281.35 L95.9,280.32 L96.7,279.72 L97.5,279.38 L98.3,279.34 L99.1,279.36 L99.9,279.91 L100.7,279.90 L101.5,279.73 L102.3,279.06 L103.1,278.90 L103.9,279.04 L104.7,278.86 L105.5,278.89 L106.3,279.13 L107.1,278.47 L107.9,277.50 L108.7,276.79 L109.5,276.67 L110.3,276.58 L111.1,276.57 L111.9,276.51 L112.7,276.07 L113.5,275.52 L114.3,275.24 L115.1,274.94 L115.9,274.58 L116.7,274.76 L117.5,274.88 L118.3,274.76 L119.1,273.99 L119.9,273.63 L120.7,273.18 L121.5,272.84 L122.3,272.62 L123.1,273.01 L123.9,273.75 L124.7,273.87 L125.5,274.22 L126.3,273.88 L127.1,274.15 L127.9,273.98 L128.7,273.99 L129.5,273.60 L130.3,273.14 L131.1,273.21 L131.9,272.95 L132.7,272.20 L133.5,271.40 L134.3,271.25 L135.1,271.49 L135.9,271.74 L136.7,271.28 L137.5,270.97 L138.3,270.41 L139.1,270.19 L139.9,270.17 L140.7,270.66 L141.5,270.49 L142.3,270.27 L143.1,269.89 L143.9,269.69 L144.7,269.44 L145.5,269.31 L146.3,269.48 L147.1,269.20 L147.9,268.93 L148.7,268.92 L149.5,268.88 L150.3,268.81 L151.1,268.30 L151.9,267.90 L152.7,267.57 L153.5,267.51 L154.3,267.10 L155.1,266.71 L155.9,266.36 L156.7,266.01 L157.5,265.96 L158.3,265.81 L159.1,265.71 L159.9,265.41 L160.7,265.24 L161.5,264.59 L162.3,263.92 L163.1,263.28 L163.9,262.94 L164.7,262.78 L165.5,262.09 L166.3,261.64 L167.1,261.02 L167.9,260.51 L168.7,259.89 L169.5,259.23 L170.3,258.50 L171.1,257.93 L171.9,257.16 L172.7,256.92 L173.5,256.34 L174.3,255.13 L175.1,254.45 L175.9,254.25 L176.7,254.55 L177.5,254.96 L178.3,255.21 L179.1,256.22 L179.9,257.48 L180.7,258.31 L181.5,259.34 L182.3,260.39 L183.1,261.88 L183.9,262.91 L184.7,264.23 L185.5,265.51 L186.3,266.85 L187.1,267.54 L187.9,267.86 L188.7,267.84 L189.5,267.94 L190.3,268.72 L191.1,268.92 L191.9,269.01 L192.7,269.11 L193.5,268.88 L194.3,268.86 L195.1,269.21 L195.9,269.37 L196.7,269.32 L197.5,268.99 L198.3,268.61 L199.1,268.25 L199.9,267.96 L200.7,267.47 L201.5,267.04 L202.3,267.12 L203.1,267.11 L203.9,267.09 L204.7,266.57 L205.5,265.92 L206.3,265.14 L207.1,264.64 L207.9,264.40 L208.7,264.06 L209.5,264.03 L210.3,263.44 L211.1,262.73 L211.9,261.80 L212.7,261.63 L213.5,260.77 L214.3,260.10 L215.1,259.45 L215.9,259.00 L216.7,258.66 L217.5,258.10 L218.3,257.73 L219.1,257.50 L219.9,257.09 L220.7,256.31 L221.5,255.56 L222.3,255.08 L223.1,254.34 L223.9,253.66 L224.7,253.48 L225.5,253.29 L226.3,252.54 L227.1,251.71 L227.9,250.95 L228.7,250.38 L229.5,249.48 L230.3,248.11 L231.1,246.37 L231.9,244.42 L232.7,242.44 L233.5,240.81 L234.3,240.01 L235.1,240.60 L235.9,243.42 L236.7,246.56 L237.5,249.40 L238.3,250.73 L239.1,251.56 L239.9,252.53 L240.7,253.65 L241.5,254.36 L242.3,254.40 L243.1,254.38 L243.9,254.02 L244.7,253.20 L245.5,252.37 L246.3,252.49 L247.1,252.40 L247.9,252.00 L248.7,251.19 L249.5,250.77 L250.3,250.05 L251.1,249.08 L251.9,247.85 L252.7,246.21 L253.5,244.48 L254.3,242.80 L255.1,242.17 L255.9,242.30 L256.7,243.91 L257.5,245.96 L258.3,247.80 L259.1,248.19 L259.9,247.92 L260.7,247.53 L261.5,246.64 L262.3,245.50 L263.1,244.65 L263.9,244.33 L264.7,243.62 L265.5,242.91 L266.3,242.65 L267.1,242.74 L267.9,243.08 L268.7,242.84 L269.5,242.45 L270.3,242.09 L271.1,241.87 L271.9,241.75 L272.7,241.39 L273.5,241.06 L274.3,241.01 L275.1,240.55 L275.9,240.24 L276.7,239.76 L277.5,239.54 L278.3,239.34 L279.1,239.29 L279.9,238.74 L280.7,239.04 L281.5,239.15 L282.3,238.35 L283.1,237.77 L283.9,237.68 L284.7,237.40 L285.5,236.86 L286.3,236.79 L287.1,236.88 L287.9,236.38 L288.7,235.98 L289.5,235.43 L290.3,235.13 L291.1,234.72 L291.9,234.50 L292.7,234.57 L293.5,234.40" fill="none" stroke="#4b1aa3" stroke-width="1.9" stroke-linejoin="round"/>
<path d="M23.9,315.04 L24.7,315.14 L25.5,315.33 L26.3,315.07 L27.1,314.99 L27.9,315.29 L28.7,315.58 L29.5,315.78 L30.3,315.66 L31.1,315.60 L31.9,315.62 L32.7,315.45 L33.5,315.46 L34.3,315.18 L35.1,314.63 L35.9,314.47 L36.7,314.01 L37.5,313.35 L38.3,312.87 L39.1,313.03 L39.9,312.85 L40.7,313.01 L41.5,312.78 L42.3,312.68 L43.1,312.41 L43.9,312.12 L44.7,311.59 L45.5,311.48 L46.3,311.27 L47.1,311.21 L47.9,310.90 L48.7,310.56 L49.5,310.07 L50.3,310.04 L51.1,310.27 L51.9,310.01 L52.7,309.90 L53.5,309.85 L54.3,309.79 L55.1,309.98 L55.9,309.96 L56.7,309.95 L57.5,309.94 L58.3,310.14 L59.1,310.48 L59.9,310.08 L60.7,309.84 L61.5,309.36 L62.3,309.11 L63.1,309.41 L63.9,309.18 L64.7,308.15 L65.5,307.09 L66.3,306.57 L67.1,306.27 L67.9,306.27 L68.7,306.59 L69.5,307.54 L70.3,308.44 L71.1,308.64 L71.9,308.65 L72.7,308.38 L73.5,308.55 L74.3,308.39 L75.1,308.40 L75.9,308.56 L76.7,308.58 L77.5,308.06 L78.3,307.19 L79.1,306.99 L79.9,307.26 L80.7,306.93 L81.5,306.80 L82.3,306.75 L83.1,306.91 L83.9,306.61 L84.7,306.04 L85.5,305.90 L86.3,306.00 L87.1,305.81 L87.9,305.03 L88.7,304.66 L89.5,304.70 L90.3,304.87 L91.1,304.93 L91.9,304.88 L92.7,305.36 L93.5,305.71 L94.3,306.13 L95.1,306.08 L95.9,305.50 L96.7,304.68 L97.5,303.59 L98.3,303.26 L99.1,302.98 L99.9,302.58 L100.7,301.82 L101.5,301.71 L102.3,301.51 L103.1,301.46 L103.9,301.67 L104.7,302.05 L105.5,302.38 L106.3,302.41 L107.1,301.86 L107.9,301.71 L108.7,301.81 L109.5,301.89 L110.3,301.68 L111.1,301.52 L111.9,301.24 L112.7,300.77 L113.5,300.47 L114.3,300.51 L115.1,300.43 L115.9,300.07 L116.7,299.84 L117.5,299.59 L118.3,299.73 L119.1,299.25 L119.9,298.73 L120.7,298.30 L121.5,298.16 L122.3,298.08 L123.1,298.68 L123.9,299.36 L124.7,299.37 L125.5,299.76 L126.3,299.15 L127.1,299.00 L127.9,298.47 L128.7,298.21 L129.5,297.78 L130.3,297.48 L131.1,297.62 L131.9,297.36 L132.7,296.79 L133.5,296.15 L134.3,295.85 L135.1,295.80 L135.9,296.12 L136.7,296.06 L137.5,296.12 L138.3,295.96 L139.1,295.95 L139.9,295.79 L140.7,296.01 L141.5,295.77 L142.3,295.61 L143.1,294.84 L143.9,294.03 L144.7,293.89 L145.5,293.93 L146.3,293.66 L147.1,293.25 L147.9,293.00 L148.7,293.00 L149.5,293.47 L150.3,293.81 L151.1,293.70 L151.9,294.04 L152.7,294.04 L153.5,293.66 L154.3,293.08 L155.1,292.73 L155.9,292.16 L156.7,291.68 L157.5,291.65 L158.3,291.36 L159.1,290.93 L159.9,290.32 L160.7,290.10 L161.5,289.49 L162.3,288.84 L163.1,288.33 L163.9,288.04 L164.7,287.74 L165.5,286.84 L166.3,286.16 L167.1,285.35 L167.9,284.70 L168.7,284.21 L169.5,283.62 L170.3,282.68 L171.1,282.32 L171.9,282.00 L172.7,281.41 L173.5,280.57 L174.3,279.68 L175.1,278.52 L175.9,277.69 L176.7,277.90 L177.5,278.49 L178.3,279.22 L179.1,280.03 L179.9,280.71 L180.7,281.44 L181.5,282.57 L182.3,283.75 L183.1,285.29 L183.9,286.46 L184.7,288.46 L185.5,290.17 L186.3,291.63 L187.1,292.66 L187.9,293.03 L188.7,293.12 L189.5,293.69 L190.3,294.71 L191.1,295.00 L191.9,295.20 L192.7,295.26 L193.5,295.04 L194.3,295.04 L195.1,295.07 L195.9,294.69 L196.7,294.16 L197.5,293.33 L198.3,292.54 L199.1,292.20 L199.9,292.31 L200.7,292.24 L201.5,292.10 L202.3,292.40 L203.1,292.39 L203.9,291.95 L204.7,291.22 L205.5,291.00 L206.3,290.61 L207.1,290.00 L207.9,289.66 L208.7,289.76 L209.5,290.32 L210.3,290.48 L211.1,290.45 L211.9,289.31 L212.7,288.45 L213.5,287.11 L214.3,286.01 L215.1,284.97 L215.9,284.43 L216.7,283.91 L217.5,283.23 L218.3,282.94 L219.1,282.65 L219.9,282.52 L220.7,282.26 L221.5,281.59 L222.3,280.79 L223.1,280.02 L223.9,279.82 L224.7,280.28 L225.5,280.68 L226.3,280.28 L227.1,279.52 L227.9,278.70 L228.7,278.07 L229.5,277.25 L230.3,276.34 L231.1,275.20 L231.9,273.57 L232.7,271.34 L233.5,268.81 L234.3,266.57 L235.1,265.40 L235.9,266.89 L236.7,269.66 L237.5,272.81 L238.3,275.24 L239.1,277.62 L239.9,278.97 L240.7,279.39 L241.5,280.14 L242.3,280.54 L243.1,280.46 L243.9,280.33 L244.7,280.22 L245.5,279.93 L246.3,279.99 L247.1,279.73 L247.9,279.50 L248.7,278.85 L249.5,278.47 L250.3,277.93 L251.1,277.09 L251.9,275.69 L252.7,273.88 L253.5,271.70 L254.3,269.08 L255.1,267.72 L255.9,267.91 L256.7,269.79 L257.5,271.67 L258.3,273.42 L259.1,274.09 L259.9,273.95 L260.7,273.57 L261.5,272.58 L262.3,271.66 L263.1,271.14 L263.9,270.63 L264.7,270.02 L265.5,269.48 L266.3,268.72 L267.1,268.43 L267.9,268.54 L268.7,268.00 L269.5,267.58 L270.3,267.42 L271.1,267.20 L271.9,266.80 L272.7,266.65 L273.5,266.45 L274.3,266.02 L275.1,265.52 L275.9,265.39 L276.7,265.02 L277.5,265.05 L278.3,264.97 L279.1,265.02 L279.9,264.65 L280.7,264.44 L281.5,264.08 L282.3,263.67 L283.1,263.37 L283.9,263.05 L284.7,262.75 L285.5,262.64 L286.3,263.05 L287.1,263.11 L287.9,262.22 L288.7,261.64 L289.5,261.22 L290.3,261.15 L291.1,260.74 L291.9,260.41 L292.7,260.41 L293.5,260.14" fill="none" stroke="#3f1c9e" stroke-width="1.9" stroke-linejoin="round"/>
<path d="M67.00,101.50 L68.57,103.76 L70.18,105.98 L71.83,108.18 L73.52,110.34 L75.24,112.46 L77.00,114.54 L78.81,116.57 L80.68,118.56 L82.59,120.51 L84.55,122.43 L86.52,124.33 L88.51,126.22 L90.51,128.12 L92.48,130.02 L94.44,131.93 L96.39,133.86 L98.34,135.78 L100.29,137.70 L102.24,139.62 L104.19,141.54 L106.14,143.46 L108.10,145.38 L110.05,147.29 L112.01,149.21 L113.97,151.12 L115.94,153.02 L117.91,154.93 L119.85,156.85 L121.78,158.79 L123.70,160.74 L125.62,162.70 L127.53,164.66 L129.43,166.63 L131.33,168.61 L133.21,170.59 L135.10,172.58 L136.97,174.58 L138.84,176.58 L140.70,178.59 L142.55,180.60 L144.43,182.60 L146.32,184.60 L148.20,186.61 L150.05,188.64 L151.86,190.70 L153.60,192.79 L155.26,194.95 L156.84,197.16 L158.36,199.43 L159.84,201.75 L161.26,204.11 L162.63,206.49 L163.94,208.89 L165.22,211.30 L166.49,213.74 L167.71,216.21 L168.87,218.70 L169.94,221.22 L170.92,223.76 L171.82,226.34 L172.69,228.94 L173.52,231.57 L174.27,234.22 L174.92,236.89 L175.43,239.56 L175.84,242.25 L176.23,244.96 L176.57,247.69 L176.83,250.43 L176.98,253.16 L177.03,255.89 L177.07,258.63 L177.10,261.36 L177.13,264.09 L177.16,266.83 L177.18,269.57 L177.19,272.31 L177.20,275.05 L177.20,277.80" fill="none" stroke="#000" stroke-width="1.85" stroke-dasharray="1.65 1.65"/>
<path d="M162.60,127.70 L163.87,129.30 L165.14,130.89 L166.42,132.48 L167.70,134.06 L169.00,135.64 L170.30,137.20 L171.62,138.76 L172.95,140.30 L174.29,141.83 L175.65,143.35 L177.02,144.86 L178.39,146.36 L179.78,147.86 L181.17,149.35 L182.56,150.84 L183.96,152.32 L185.35,153.81 L186.75,155.30 L188.14,156.78 L189.53,158.28 L190.92,159.78 L192.29,161.28 L193.66,162.79 L195.01,164.31 L196.36,165.84 L197.71,167.37 L199.07,168.90 L200.42,170.43 L201.76,171.96 L203.10,173.50 L204.44,175.04 L205.76,176.59 L207.08,178.15 L208.38,179.71 L209.68,181.29 L210.95,182.87 L212.21,184.47 L213.49,186.07 L214.78,187.67 L216.09,189.27 L217.38,190.88 L218.66,192.51 L219.89,194.16 L221.06,195.82 L222.17,197.52 L223.19,199.25 L224.10,201.01 L224.95,202.82 L225.76,204.68 L226.53,206.58 L227.25,208.51 L227.93,210.46 L228.56,212.42 L229.14,214.38 L229.66,216.34 L230.16,218.31 L230.63,220.28 L231.08,222.27 L231.51,224.27 L231.91,226.28 L232.29,228.29 L232.64,230.30 L232.97,232.32 L233.27,234.34 L233.55,236.35 L233.82,238.37 L234.10,240.39 L234.37,242.42 L234.63,244.44 L234.86,246.48 L235.05,248.51 L235.20,250.54 L235.28,252.57 L235.30,254.61 L235.30,256.64 L235.29,258.68 L235.28,260.72 L235.25,262.76 L235.20,264.80" fill="none" stroke="#000" stroke-width="1.85" stroke-dasharray="1.65 1.65"/>
<path d="M221.50,165.00 L222.50,166.05 L223.47,167.10 L224.43,168.17 L225.38,169.25 L226.30,170.34 L227.21,171.45 L228.09,172.56 L228.96,173.68 L229.81,174.81 L230.64,175.95 L231.45,177.10 L232.25,178.26 L233.02,179.43 L233.77,180.60 L234.51,181.79 L235.23,182.98 L235.92,184.18 L236.60,185.38 L237.26,186.59 L237.90,187.81 L238.52,189.04 L239.11,190.28 L239.66,191.55 L240.18,192.85 L240.68,194.16 L241.16,195.48 L241.63,196.81 L242.10,198.15 L242.57,199.48 L243.05,200.81 L243.54,202.14 L244.06,203.44 L244.60,204.74 L245.20,206.01 L245.84,207.27 L246.51,208.52 L247.20,209.76 L247.89,211.00 L248.56,212.25 L249.20,213.50 L249.79,214.77 L250.31,216.05 L250.75,217.35 L251.13,218.67 L251.50,220.00 L251.85,221.35 L252.18,222.71 L252.49,224.08 L252.79,225.46 L253.07,226.85 L253.33,228.24 L253.58,229.63 L253.81,231.03 L254.03,232.43 L254.22,233.82 L254.40,235.21 L254.57,236.60 L254.74,237.99 L254.90,239.38 L255.06,240.78 L255.22,242.17 L255.37,243.57 L255.51,244.97 L255.64,246.37 L255.75,247.77 L255.85,249.18 L255.92,250.58 L255.97,251.98 L256.00,253.38 L256.00,254.78 L255.99,256.18 L255.98,257.58 L255.97,258.98 L255.94,260.39 L255.90,261.79 L255.85,263.19 L255.78,264.59 L255.70,266.00 L255.60,267.40" fill="none" stroke="#000" stroke-width="1.85" stroke-dasharray="1.65 1.65"/>
<text x="88.6" y="122.9" font-size="16" font-family="Liberation Sans, sans-serif">2p</text>
<text x="179.2" y="145" font-size="16" font-family="Liberation Sans, sans-serif">3p</text>
<text x="235.3" y="181.3" font-size="16" font-family="Liberation Sans, sans-serif">4p</text>
<rect x="23.50" y="43.50" width="270.90" height="275.70" fill="none" stroke="#222" stroke-width="1.4"/>
<line x1="56.50" y1="319.20" x2="56.50" y2="321.70" stroke="#222" stroke-width="1"/>
<text x="56.50" y="334" font-size="16" text-anchor="middle" font-family="Liberation Sans, sans-serif">2.12</text>
<line x1="142.30" y1="319.20" x2="142.30" y2="321.70" stroke="#222" stroke-width="1"/>
<text x="142.30" y="334" font-size="16" text-anchor="middle" font-family="Liberation Sans, sans-serif">2.14</text>
<line x1="228.50" y1="319.20" x2="228.50" y2="321.70" stroke="#222" stroke-width="1"/>
<text x="228.50" y="334" font-size="16" text-anchor="middle" font-family="Liberation Sans, sans-serif">2.16</text>
<line x1="71.30" y1="43.50" x2="71.30" y2="41.00" stroke="#222" stroke-width="1"/>
<text x="71.30" y="37" font-size="16" text-anchor="middle" font-family="Liberation Sans, sans-serif">584</text>
<line x1="135.50" y1="43.50" x2="135.50" y2="41.00" stroke="#222" stroke-width="1"/>
<text x="135.50" y="37" font-size="16" text-anchor="middle" font-family="Liberation Sans, sans-serif">580</text>
<line x1="199.10" y1="43.50" x2="199.10" y2="41.00" stroke="#222" stroke-width="1"/>
<text x="199.10" y="37" font-size="16" text-anchor="middle" font-family="Liberation Sans, sans-serif">576</text>
<line x1="262.60" y1="43.50" x2="262.60" y2="41.00" stroke="#222" stroke-width="1"/>
<text x="262.60" y="37" font-size="16" text-anchor="middle" font-family="Liberation Sans, sans-serif">572</text>
<text x="88.8" y="15" font-size="20.3" font-family="Liberation Sans, sans-serif">Wavelength (nm)</text>
<text x="102.2" y="355.6" font-size="20.3" font-family="Liberation Sans, sans-serif">Energy (eV)</text>
<text transform="translate(14.6,182.4) rotate(-90)" font-size="20.3" text-anchor="middle" font-family="Liberation Sans, sans-serif">Absorption (a.u.)</text>
<text x="10.5" y="20.5" font-size="20" font-weight="bold" font-family="Liberation Sans, sans-serif">(a)</text>
<defs><linearGradient id="pl" x1="0" y1="0" x2="0" y2="1"><stop offset="0.000" stop-color="#f3ee28"/><stop offset="0.050" stop-color="#fada25"/><stop offset="0.100" stop-color="#fdc728"/><stop offset="0.150" stop-color="#feb630"/><stop offset="0.200" stop-color="#fca43a"/><stop offset="0.250" stop-color="#f89445"/><stop offset="0.300" stop-color="#f2854f"/><stop offset="0.350" stop-color="#eb775a"/><stop offset="0.400" stop-color="#e26965"/><stop offset="0.450" stop-color="#da5d6f"/><stop offset="0.500" stop-color="#d0517a"/><stop offset="0.550" stop-color="#c54585"/><stop offset="0.600" stop-color="#ba3991"/><stop offset="0.650" stop-color="#ad2e9c"/><stop offset="0.700" stop-color="#9f23a5"/><stop offset="0.750" stop-color="#9219ab"/><stop offset="0.800" stop-color="#8214af"/><stop offset="0.850" stop-color="#7214ae"/><stop offset="0.900" stop-color="#6116ab"/><stop offset="0.950" stop-color="#5019a5"/><stop offset="1.000" stop-color="#3f1c9e"/></linearGradient></defs>
<rect x="311.50" y="43.50" width="14.10" height="275.70" fill="url(#pl)" stroke="#333" stroke-width="0.6"/>
<line x1="325.60" y1="290.68" x2="328.10" y2="290.68" stroke="#222" stroke-width="1"/>
<text x="329" y="296.98" font-size="16" font-family="Liberation Sans, sans-serif">20</text>
<line x1="325.60" y1="252.65" x2="328.10" y2="252.65" stroke="#222" stroke-width="1"/>
<text x="329" y="258.95" font-size="16" font-family="Liberation Sans, sans-serif">40</text>
<line x1="325.60" y1="214.62" x2="328.10" y2="214.62" stroke="#222" stroke-width="1"/>
<text x="329" y="220.92" font-size="16" font-family="Liberation Sans, sans-serif">60</text>
<line x1="325.60" y1="176.60" x2="328.10" y2="176.60" stroke="#222" stroke-width="1"/>
<text x="329" y="182.90" font-size="16" font-family="Liberation Sans, sans-serif">80</text>
<line x1="325.60" y1="138.57" x2="328.10" y2="138.57" stroke="#222" stroke-width="1"/>
<text x="329" y="144.87" font-size="16" font-family="Liberation Sans, sans-serif">100</text>
<line x1="325.60" y1="100.54" x2="328.10" y2="100.54" stroke="#222" stroke-width="1"/>
<text x="329" y="106.84" font-size="16" font-family="Liberation Sans, sans-serif">120</text>
<line x1="325.60" y1="62.51" x2="328.10" y2="62.51" stroke="#222" stroke-width="1"/>
<text x="329" y="68.81" font-size="16" font-family="Liberation Sans, sans-serif">140</text>
<text transform="translate(362.9,180) rotate(90)" font-size="20.3" text-anchor="middle" font-family="Liberation Sans, sans-serif">Temperature (K)</text>
<text x="456" y="20.5" font-size="20" font-weight="bold" font-family="Liberation Sans, sans-serif">(b)</text>
<path d="M485.73,159.20 L487.81,159.20 L489.89,159.20 L491.97,159.20 L494.05,159.20 L496.13,159.20 L498.21,159.20 L500.29,159.20 L502.37,159.21 L504.45,159.21 L506.53,159.23 L508.61,159.25 L510.69,159.29 L512.77,159.34 L514.85,159.41 L516.93,159.50 L519.01,159.61 L521.09,159.76 L523.17,159.93 L525.25,160.13 L527.33,160.37 L529.40,160.65 L531.48,160.96 L533.56,161.31 L535.64,161.69 L537.72,162.11 L539.80,162.57 L541.88,163.07 L543.96,163.60 L546.04,164.17 L548.12,164.77 L550.20,165.41 L552.28,166.08 L554.36,166.78 L556.44,167.52 L558.52,168.28 L560.60,169.08 L562.68,169.90 L564.76,170.76 L566.84,171.64 L568.92,172.54 L571.00,173.48 L573.08,174.43 L575.16,175.41 L577.24,176.42 L579.32,177.44 L581.39,178.48 L583.47,179.55 L585.55,180.64 L587.63,181.74 L589.71,182.86 L591.79,184.00 L593.87,185.16 L595.95,186.33 L598.03,187.52 L600.11,188.72 L602.19,189.94 L604.27,191.17 L606.35,192.42 L608.43,193.68 L610.51,194.95 L612.59,196.23 L614.67,197.53 L616.75,198.83 L618.83,200.15 L620.91,201.48 L622.99,202.82 L625.07,204.16 L627.15,205.52 L629.23,206.89 L631.30,208.26 L633.38,209.65 L635.46,211.04 L637.54,212.44 L639.62,213.85 L641.70,215.27 L643.78,216.69 L645.86,218.12 L647.94,219.56 L650.02,221.00 L652.10,222.45 L654.18,223.91 L656.26,225.37 L658.34,226.84 L660.42,228.31 L662.50,229.79 L664.58,231.28 L666.66,232.77 L668.74,234.27 L670.82,235.77 L672.90,237.27 L674.98,238.78 L677.06,240.30 L679.14,241.82 L681.22,243.34 L683.29,244.87 L685.37,246.40 L687.45,247.93 L689.53,249.47 L691.61,251.02 L693.69,252.56 L695.77,254.11 L697.85,255.67 L699.93,257.23 L702.01,258.79 L704.09,260.35 L706.17,261.92 L708.25,263.49 L710.33,265.06 L712.41,266.64 L714.49,268.22 L716.57,269.80 L718.65,271.38 L720.73,272.97 L722.81,274.56 L724.89,276.15 L726.97,277.75 L729.05,279.34 L731.13,280.94 L733.20,282.54" fill="none" stroke="#3a45b0" stroke-width="1.5" stroke-dasharray="4.3 1.8"/>
<path d="M485.73,95.30 L487.24,95.30 L488.75,95.30 L490.25,95.30 L491.76,95.30 L493.26,95.30 L494.77,95.30 L496.27,95.30 L497.78,95.30 L499.29,95.30 L500.79,95.30 L502.30,95.31 L503.80,95.31 L505.31,95.32 L506.82,95.33 L508.32,95.35 L509.83,95.38 L511.33,95.41 L512.84,95.45 L514.35,95.51 L515.85,95.57 L517.36,95.65 L518.86,95.75 L520.37,95.85 L521.88,95.98 L523.38,96.13 L524.89,96.29 L526.39,96.47 L527.90,96.68 L529.40,96.90 L530.91,97.14 L532.42,97.41 L533.92,97.69 L535.43,98.00 L536.93,98.33 L538.44,98.68 L539.95,99.06 L541.45,99.45 L542.96,99.87 L544.46,100.30 L545.97,100.76 L547.48,101.24 L548.98,101.73 L550.49,102.25 L551.99,102.79 L553.50,103.34 L555.01,103.92 L556.51,104.51 L558.02,105.12 L559.52,105.75 L561.03,106.39 L562.53,107.05 L564.04,107.73 L565.55,108.43 L567.05,109.13 L568.56,109.86 L570.06,110.60 L571.57,111.35 L573.08,112.12 L574.58,112.90 L576.09,113.69 L577.59,114.50 L579.10,115.32 L580.61,116.15 L582.11,117.00 L583.62,117.85 L585.12,118.72 L586.63,119.59 L588.14,120.48 L589.64,121.38 L591.15,122.29 L592.65,123.21 L594.16,124.14 L595.67,125.07 L597.17,126.02 L598.68,126.98 L600.18,127.94 L601.69,128.91 L603.19,129.89 L604.70,130.88 L606.21,131.88 L607.71,132.88 L609.22,133.90 L610.72,134.91 L612.23,135.94 L613.74,136.97 L615.24,138.01 L616.75,139.06 L618.25,140.11 L619.76,141.17 L621.27,142.23 L622.77,143.30 L624.28,144.38 L625.78,145.46 L627.29,146.55 L628.80,147.64 L630.30,148.74 L631.81,149.84 L633.31,150.95 L634.82,152.06 L636.32,153.17 L637.83,154.30 L639.34,155.42 L640.84,156.55 L642.35,157.69 L643.85,158.83 L645.36,159.97 L646.87,161.12 L648.37,162.27 L649.88,163.42 L651.38,164.58 L652.89,165.74 L654.40,166.91 L655.90,168.08 L657.41,169.25 L658.91,170.43 L660.42,171.61 L661.93,172.79 L663.43,173.97 L664.94,175.16" fill="none" stroke="#e3261c" stroke-width="1.5" stroke-dasharray="4.3 1.8"/>
<path d="M485.73,71.70 L486.81,71.70 L487.88,71.70 L488.96,71.70 L490.04,71.70 L491.11,71.70 L492.19,71.70 L493.26,71.70 L494.34,71.70 L495.41,71.70 L496.49,71.70 L497.57,71.70 L498.64,71.70 L499.72,71.70 L500.79,71.70 L501.87,71.71 L502.94,71.71 L504.02,71.71 L505.10,71.72 L506.17,71.73 L507.25,71.74 L508.32,71.76 L509.40,71.77 L510.47,71.80 L511.55,71.82 L512.62,71.86 L513.70,71.89 L514.78,71.94 L515.85,71.99 L516.93,72.05 L518.00,72.11 L519.08,72.19 L520.15,72.27 L521.23,72.36 L522.31,72.47 L523.38,72.58 L524.46,72.70 L525.53,72.83 L526.61,72.97 L527.68,73.13 L528.76,73.29 L529.84,73.47 L530.91,73.66 L531.99,73.85 L533.06,74.07 L534.14,74.29 L535.21,74.52 L536.29,74.77 L537.36,75.02 L538.44,75.29 L539.52,75.57 L540.59,75.86 L541.67,76.17 L542.74,76.48 L543.82,76.81 L544.89,77.15 L545.97,77.50 L547.05,77.86 L548.12,78.23 L549.20,78.61 L550.27,79.00 L551.35,79.40 L552.42,79.81 L553.50,80.24 L554.58,80.67 L555.65,81.11 L556.73,81.57 L557.80,82.03 L558.88,82.50 L559.95,82.98 L561.03,83.47 L562.10,83.97 L563.18,84.48 L564.26,85.00 L565.33,85.53 L566.41,86.06 L567.48,86.60 L568.56,87.15 L569.63,87.71 L570.71,88.28 L571.79,88.85 L572.86,89.43 L573.94,90.02 L575.01,90.62 L576.09,91.22 L577.16,91.83 L578.24,92.45 L579.32,93.08 L580.39,93.71 L581.47,94.34 L582.54,94.99 L583.62,95.64 L584.69,96.29 L585.77,96.95 L586.84,97.62 L587.92,98.30 L589.00,98.97 L590.07,99.66 L591.15,100.35 L592.22,101.04 L593.30,101.75 L594.37,102.45 L595.45,103.16 L596.53,103.88 L597.60,104.60 L598.68,105.32 L599.75,106.05 L600.83,106.79 L601.90,107.53 L602.98,108.27 L604.06,109.02 L605.13,109.77 L606.21,110.53 L607.28,111.29 L608.36,112.05 L609.43,112.82 L610.51,113.59 L611.58,114.37 L612.66,115.15 L613.74,115.93" fill="none" stroke="#18893a" stroke-width="1.5" stroke-dasharray="4.3 1.8"/>
<rect x="482.53" y="148.50" width="6.4" height="6.4" fill="#3a45b0"/>
<rect x="491.07" y="149.00" width="6.4" height="6.4" fill="#3a45b0"/>
<rect x="508.13" y="150.50" width="6.4" height="6.4" fill="#3a45b0"/>
<rect x="516.67" y="152.10" width="6.4" height="6.4" fill="#3a45b0"/>
<rect x="525.20" y="154.00" width="6.4" height="6.4" fill="#3a45b0"/>
<rect x="533.73" y="157.60" width="6.4" height="6.4" fill="#3a45b0"/>
<rect x="542.27" y="161.00" width="6.4" height="6.4" fill="#3a45b0"/>
<rect x="550.80" y="164.30" width="6.4" height="6.4" fill="#3a45b0"/>
<rect x="559.33" y="169.30" width="6.4" height="6.4" fill="#3a45b0"/>
<rect x="576.40" y="180.50" width="6.4" height="6.4" fill="#3a45b0"/>
<rect x="593.47" y="188.10" width="6.4" height="6.4" fill="#3a45b0"/>
<rect x="610.54" y="199.80" width="6.4" height="6.4" fill="#3a45b0"/>
<rect x="627.60" y="211.30" width="6.4" height="6.4" fill="#3a45b0"/>
<rect x="644.67" y="221.10" width="6.4" height="6.4" fill="#3a45b0"/>
<rect x="661.74" y="226.80" width="6.4" height="6.4" fill="#3a45b0"/>
<rect x="695.87" y="250.40" width="6.4" height="6.4" fill="#3a45b0"/>
<rect x="730.00" y="271.50" width="6.4" height="6.4" fill="#3a45b0"/>
<circle cx="485.73" cy="90.80" r="3.5" fill="#e3261c"/>
<circle cx="494.27" cy="90.80" r="3.5" fill="#e3261c"/>
<circle cx="511.33" cy="93.00" r="3.5" fill="#e3261c"/>
<circle cx="519.87" cy="94.20" r="3.5" fill="#e3261c"/>
<circle cx="528.40" cy="96.20" r="3.5" fill="#e3261c"/>
<circle cx="536.93" cy="99.70" r="3.5" fill="#e3261c"/>
<circle cx="545.47" cy="102.50" r="3.5" fill="#e3261c"/>
<circle cx="554.00" cy="105.50" r="3.5" fill="#e3261c"/>
<circle cx="562.53" cy="110.50" r="3.5" fill="#e3261c"/>
<circle cx="579.60" cy="121.70" r="3.5" fill="#e3261c"/>
<circle cx="596.67" cy="129.20" r="3.5" fill="#e3261c"/>
<circle cx="613.74" cy="138.70" r="3.5" fill="#e3261c"/>
<circle cx="630.80" cy="150.60" r="3.5" fill="#e3261c"/>
<circle cx="647.87" cy="158.30" r="3.5" fill="#e3261c"/>
<circle cx="664.94" cy="168.50" r="3.5" fill="#e3261c"/>
<path d="M485.73,65.90 L489.63,72.90 L481.83,72.90 Z" fill="#18893a"/>
<path d="M494.27,65.90 L498.17,72.90 L490.37,72.90 Z" fill="#18893a"/>
<path d="M511.33,66.70 L515.23,73.70 L507.43,73.70 Z" fill="#18893a"/>
<path d="M519.87,67.40 L523.77,74.40 L515.97,74.40 Z" fill="#18893a"/>
<path d="M528.40,68.70 L532.30,75.70 L524.50,75.70 Z" fill="#18893a"/>
<path d="M536.93,71.20 L540.83,78.20 L533.03,78.20 Z" fill="#18893a"/>
<path d="M545.47,74.20 L549.37,81.20 L541.57,81.20 Z" fill="#18893a"/>
<path d="M554.00,79.20 L557.90,86.20 L550.10,86.20 Z" fill="#18893a"/>
<path d="M562.53,84.70 L566.43,91.70 L558.63,91.70 Z" fill="#18893a"/>
<path d="M579.60,93.50 L583.50,100.50 L575.70,100.50 Z" fill="#18893a"/>
<path d="M596.67,104.50 L600.57,111.50 L592.77,111.50 Z" fill="#18893a"/>
<path d="M613.74,112.90 L617.64,119.90 L609.84,119.90 Z" fill="#18893a"/>
<rect x="473.60" y="47.50" width="271.60" height="264.70" fill="none" stroke="#777" stroke-width="1.4"/>
<line x1="477.20" y1="312.20" x2="477.20" y2="314.70" stroke="#777" stroke-width="1"/>
<text x="477.20" y="327.6" font-size="16" text-anchor="middle" font-family="Liberation Sans, sans-serif">0</text>
<line x1="528.40" y1="312.20" x2="528.40" y2="314.70" stroke="#777" stroke-width="1"/>
<text x="528.40" y="327.6" font-size="16" text-anchor="middle" font-family="Liberation Sans, sans-serif">30</text>
<line x1="579.60" y1="312.20" x2="579.60" y2="314.70" stroke="#777" stroke-width="1"/>
<text x="579.60" y="327.6" font-size="16" text-anchor="middle" font-family="Liberation Sans, sans-serif">60</text>
<line x1="630.80" y1="312.20" x2="630.80" y2="314.70" stroke="#777" stroke-width="1"/>
<text x="630.80" y="327.6" font-size="16" text-anchor="middle" font-family="Liberation Sans, sans-serif">90</text>
<line x1="682.00" y1="312.20" x2="682.00" y2="314.70" stroke="#777" stroke-width="1"/>
<text x="682.00" y="327.6" font-size="16" text-anchor="middle" font-family="Liberation Sans, sans-serif">120</text>
<line x1="733.20" y1="312.20" x2="733.20" y2="314.70" stroke="#777" stroke-width="1"/>
<text x="733.20" y="327.6" font-size="16" text-anchor="middle" font-family="Liberation Sans, sans-serif">150</text>
<line x1="473.60" y1="288.50" x2="471.10" y2="288.50" stroke="#777" stroke-width="1"/>
<text x="470.7" y="294.90" font-size="16" text-anchor="end" font-family="Liberation Sans, sans-serif">2.12</text>
<line x1="473.60" y1="241.30" x2="471.10" y2="241.30" stroke="#777" stroke-width="1"/>
<text x="470.7" y="247.70" font-size="16" text-anchor="end" font-family="Liberation Sans, sans-serif">2.13</text>
<line x1="473.60" y1="194.10" x2="471.10" y2="194.10" stroke="#777" stroke-width="1"/>
<text x="470.7" y="200.50" font-size="16" text-anchor="end" font-family="Liberation Sans, sans-serif">2.14</text>
<line x1="473.60" y1="146.90" x2="471.10" y2="146.90" stroke="#777" stroke-width="1"/>
<text x="470.7" y="153.30" font-size="16" text-anchor="end" font-family="Liberation Sans, sans-serif">2.15</text>
<line x1="473.60" y1="99.70" x2="471.10" y2="99.70" stroke="#777" stroke-width="1"/>
<text x="470.7" y="106.10" font-size="16" text-anchor="end" font-family="Liberation Sans, sans-serif">2.16</text>
<line x1="473.60" y1="52.50" x2="471.10" y2="52.50" stroke="#777" stroke-width="1"/>
<text x="470.7" y="58.90" font-size="16" text-anchor="end" font-family="Liberation Sans, sans-serif">2.17</text>
<text x="535.2" y="355.5" font-size="20.2" font-family="Liberation Sans, sans-serif">Temperature (K)</text>
<text transform="translate(427.8,182.2) rotate(-90)" font-size="20.4" text-anchor="middle" font-family="Liberation Sans, sans-serif">Energy (eV)</text>
<rect x="664.5" y="55.5" width="73" height="70.7" rx="3" fill="#fff" fill-opacity="0.8" stroke="#dcdcdc" stroke-width="1"/>
<rect x="682.8" y="64.8" width="6.4" height="6.4" fill="#3a45b0"/>
<circle cx="686" cy="90" r="3.5" fill="#e3261c"/>
<path d="M686.00,108.20 L689.90,115.20 L682.10,115.20 Z" fill="#18893a"/>
<text x="713.5" y="73.9" font-size="16" font-family="Liberation Sans, sans-serif">2p</text>
<text x="713.5" y="96.0" font-size="16" font-family="Liberation Sans, sans-serif">3p</text>
<text x="713.5" y="118.0" font-size="16" font-family="Liberation Sans, sans-serif">4p</text></svg>
</body></html>
